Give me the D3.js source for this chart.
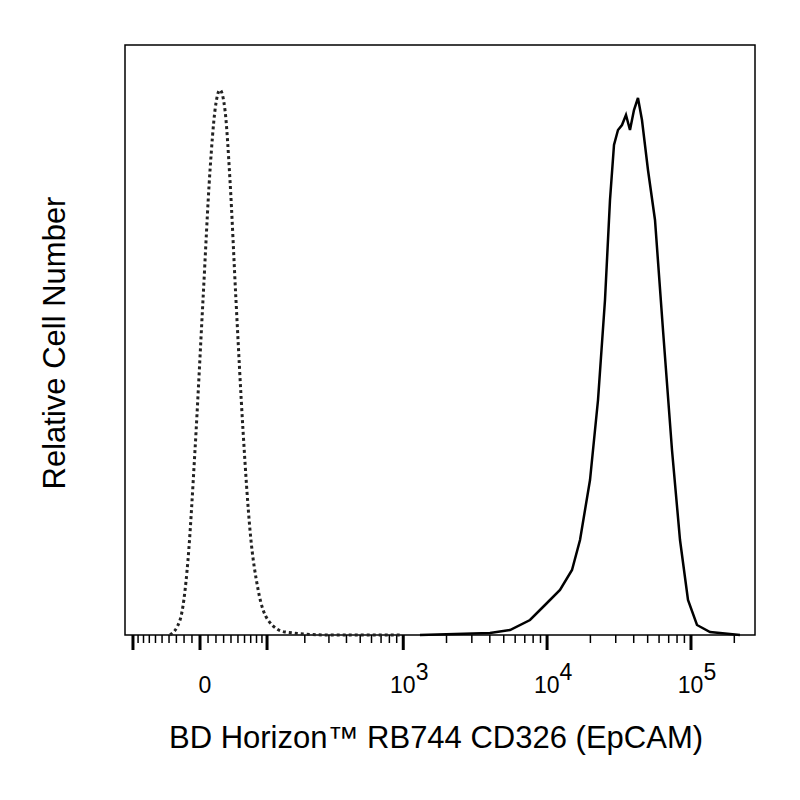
<!DOCTYPE html><html><head><script src="https://d3js.org/d3.v7.min.js"></script>
<style>body{margin:0;background:#fff}</style></head><body><svg id="c" width="800" height="800"></svg><script>
const C=77.5;
const isoX=[-38.6,-25.2,-15,-6.2,3.7,12.5,18.8,25.2,31.8,38.6,47.1,57.6,68.8,83,102,141,305,950];
const isoY=[0,15,75,185,335,465,525,545,525,455,335,205,105,45,15,3,0,0];
const epX=[1307,4011,5526,7610,9672,12294,14903,16939,19877,22591,25261,27365,29174,31102,33155,35342,37680,40167,42819,45648,50260,56226,63900,73800,83900,95330,110100,135600,219000];
const epY=[0,2,5,15,30,45,65,95,155,235,335,435,490,505,510,520,505,525,537,515,465,415,305,185,95,35,10,3,0];
const majorTicks=[-100,0,100,1000,10000,100000];
const tickLabels=[{v:0,b:"0",e:""},{v:1000,b:"10",e:"3"},{v:10000,b:"10",e:"4"},{v:100000,b:"10",e:"5"}];
const L=125,R=755,T=45,B=635;
const tf=v=>Math.asinh(v/C);
const xs=d3.scaleLinear().domain([tf(-117),tf(278500)]).range([L,R]);
const x=v=>xs(tf(v));
const y=d3.scaleLinear().domain([0,590]).range([B,T]);
const svg=d3.select("#c");
svg.append("rect").attr("x",L).attr("y",T).attr("width",R-L).attr("height",B-T).attr("fill","none").attr("stroke","#000").attr("stroke-width",1.5);
const minors=[];
for(let i=-90;i<=90;i+=10) if(i!==0) minors.push(i);
[100,1000,10000,100000].forEach(d=>{for(let k=2;k<=9;k++){const v=d*k; if(x(v)<=R) minors.push(v);}});
const g=svg.append("g").attr("stroke","#000");
minors.forEach(v=>g.append("line").attr("x1",x(v)).attr("x2",x(v)).attr("y1",B).attr("y2",B+8).attr("stroke-width",1.5));
majorTicks.forEach(v=>g.append("line").attr("x1",x(v)).attr("x2",x(v)).attr("y1",B).attr("y2",B+15).attr("stroke-width",3));
tickLabels.forEach(t=>{const tx=svg.append("text").attr("x",x(t.v)+(t.e?6:5)).attr("y",693).attr("text-anchor","middle").attr("font-family","Liberation Sans, Arial").attr("font-size",23);
 tx.append("tspan").text(t.b); if(t.e) tx.append("tspan").attr("dy",-13).attr("font-size",23).text(t.e);});
const line=d3.line().x(d=>x(d[0])).y(d=>y(d[1])).curve(d3.curveMonotoneX);
svg.append("path").attr("d",line(isoX.map((v,i)=>[v,isoY[i]]))).attr("fill","none").attr("stroke","#222").attr("stroke-width",3).attr("stroke-dasharray","3,3");
svg.append("path").attr("d",d3.line().x(d=>x(d[0])).y(d=>y(d[1]))(epX.map((v,i)=>[v,epY[i]]))).attr("fill","none").attr("stroke","#000").attr("stroke-width",2.5);
svg.append("text").attr("x",436).attr("y",748).attr("text-anchor","middle").attr("font-family","Liberation Sans, Arial").attr("font-size",31).text("BD Horizon™ RB744 CD326 (EpCAM)");
svg.append("text").attr("transform","translate(65,343) rotate(-90)").attr("text-anchor","middle").attr("font-family","Liberation Sans, Arial").attr("font-size",31).text("Relative Cell Number");
</script></body></html>
